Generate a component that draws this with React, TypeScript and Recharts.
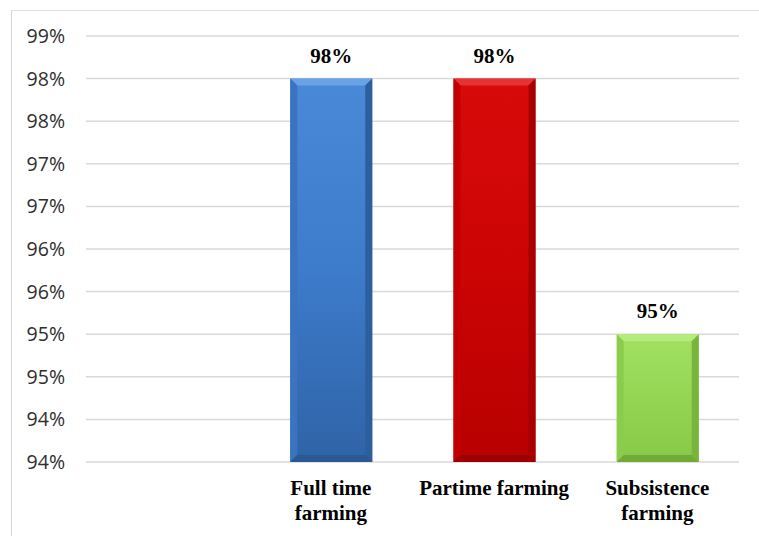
import React from "react";
import { BarChart, Bar, XAxis, YAxis, CartesianGrid, Cell, LabelList } from "recharts";

// Farming types and the share for each (first slot is left empty)
const categories = ["", "Full time farming", "Partime farming", "Subsistence farming"];
const shares: (number | null)[] = [null, 0.985, 0.985, 0.955];

// Value-axis ticks in half-percent steps
const yTicks = [0.94, 0.945, 0.95, 0.955, 0.96, 0.965, 0.97, 0.975, 0.98, 0.985, 0.99];

// Shading palette per category: [top, body, bottom, bevelTop, bevelLeft, bevelRight, bevelBottom]
const palettes: string[][] = [
  ["#ffffff", "#ffffff", "#ffffff", "#ffffff", "#ffffff", "#ffffff", "#ffffff"],
  ["#4a89d8", "#3d7bcb", "#2f63a6", "#6aa2e6", "#3a74c0", "#2d5f9f", "#2a5893"],
  ["#d80a0a", "#cc0404", "#b80000", "#e63232", "#c20000", "#a60000", "#9c0000"],
  ["#a2e062", "#94d654", "#88c848", "#b6ec7e", "#8ccc4c", "#79b43c", "#72aa36"],
];

const data = categories.map((name, i) => ({ name, value: shares[i] }));

// Percent text the way a spreadsheet rounds a stored fraction to whole percent
const pct = (v: number) => `${Math.round(Number(v.toFixed(2)) * 100)}%`;

const wrapWords = (text: string, maxChars: number) => {
  const lines: string[] = [];
  let cur = "";
  text.split(" ").forEach((w) => {
    const next = cur ? `${cur} ${w}` : w;
    if (next.length > maxChars && cur) {
      lines.push(cur);
      cur = w;
    } else {
      cur = next;
    }
  });
  if (cur) lines.push(cur);
  return lines;
};

const CategoryTick = (props: any) => {
  const { x, y, payload } = props;
  const lines = wrapWords(String(payload.value ?? ""), 15);
  return (
    <text
      x={x}
      y={y + 33}
      textAnchor="middle"
      fontFamily="'Liberation Serif', 'Times New Roman', serif"
      fontWeight="bold"
      fontSize={21}
      fill="#000"
    >
      {lines.map((l, i) => (
        <tspan key={i} x={x} dy={i === 0 ? 0 : 25}>
          {l}
        </tspan>
      ))}
    </text>
  );
};

const BevelBar = (props: any) => {
  const { x, y, width: w, height: h, payload } = props;
  if (!h || h <= 0) return null;
  const ci = Math.max(0, categories.indexOf(payload?.name));
  const p = palettes[ci];
  const b = 7;
  return (
    <g>
      <rect x={x} y={y} width={w} height={h} fill={`url(#barShade${ci})`} />
      <polygon points={`${x},${y} ${x + w},${y} ${x + w - b},${y + b} ${x + b},${y + b}`} fill={p[3]} />
      <polygon points={`${x},${y} ${x + b},${y + b} ${x + b},${y + h - b} ${x},${y + h}`} fill={p[4]} />
      <polygon points={`${x + w},${y} ${x + w},${y + h} ${x + w - b},${y + h - b} ${x + w - b},${y + b}`} fill={p[5]} />
      <polygon points={`${x},${y + h} ${x + b},${y + h - b} ${x + w - b},${y + h - b} ${x + w},${y + h}`} fill={p[6]} />
    </g>
  );
};

export default function App() {
  return (
    <div style={{ position: "absolute", left: 0, top: 0, width: 759, height: 536, background: "#fff" }}>
      <div
        style={{
          position: "absolute",
          left: 11,
          top: 10,
          width: 760,
          height: 540,
          borderLeft: "1px solid #d6d6d6",
          borderTop: "1px solid #e2e2e2",
        }}
      />
      <BarChart
        width={759}
        height={536}
        data={data}
        margin={{ top: 36, right: 20, left: 0, bottom: 0 }}
        style={{ position: "absolute", left: 0, top: 0 }}
      >
        <defs>
          {palettes.map((p, i) => (
            <linearGradient key={i} id={`barShade${i}`} x1="0" y1="0" x2="0" y2="1">
              <stop offset="0%" stopColor={p[0]} />
              <stop offset="50%" stopColor={p[1]} />
              <stop offset="100%" stopColor={p[2]} />
            </linearGradient>
          ))}
        </defs>
        <CartesianGrid vertical={false} stroke="#d9d9d9" strokeWidth={1.5} />
        <XAxis
          dataKey="name"
          height={74}
          axisLine={false}
          tickLine={false}
          tickSize={0}
          tickMargin={0}
          interval={0}
          tick={<CategoryTick />}
        />
        <YAxis
          width={86}
          domain={[0.94, 0.99]}
          ticks={yTicks}
          allowDataOverflow
          axisLine={false}
          tickLine={false}
          tickSize={0}
          tickMargin={21}
          tickFormatter={pct}
          tick={{ fontSize: 19.5, fontFamily: "'Open Sans', sans-serif", fill: "#2e2e2e" }}
        />
        <Bar dataKey="value" barSize={82} isAnimationActive={false} shape={<BevelBar />}>
          {data.map((_, i) => (
            <Cell key={i} fill={palettes[i][1]} />
          ))}
          <LabelList
            dataKey="value"
            position="top"
            offset={16}
            formatter={(v: any) => (v == null ? "" : pct(v))}
            style={{
              fontSize: 21,
              fontWeight: "bold",
              fontFamily: "'Liberation Serif', 'Times New Roman', serif",
              fill: "#000",
            }}
          />
        </Bar>
      </BarChart>
    </div>
  );
}
